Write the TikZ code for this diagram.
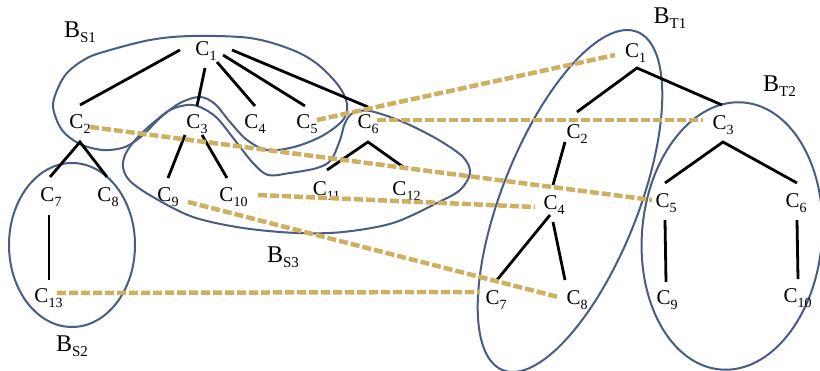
\documentclass[tikz,border=0pt]{standalone}
\usepackage{fontspec}
\setmainfont{Liberation Serif}
\newcommand{\mkC}[1]{{\fontsize{21}{21}\selectfont C\raisebox{-5pt}{\fontsize{14}{14}\selectfont #1}}}
\newcommand{\mkB}[1]{{\fontsize{24}{24}\selectfont B\raisebox{-5pt}{\fontsize{15}{15}\selectfont #1}}}
\definecolor{setcol}{RGB}{72,92,132}
\definecolor{mapcol}{RGB}{206,176,96}
\tikzset{
  lab/.style={inner sep=0pt, outer sep=0pt, anchor=center},
  edge/.style={draw=black, line width=2.8pt},
  setline/.style={draw=setcol, line width=2pt},
  mapline/.style={draw=mapcol, line width=4.5pt, dash pattern=on 9pt off 3pt}
}
\begin{document}
\begin{tikzpicture}[x=1pt,y=-1pt]
\useasboundingbox (0,0) rectangle (820,371);
\fill[white] (0,0) rectangle (820,371);

% ---- set outlines ----
\draw[setline] plot[smooth cycle, tension=0.55] coordinates {
 (53,107) (58,88) (67,73) (82,61) (100,53) (150,40) (193,36) (250,38)
 (290,49) (316,63) (338,85) (347,104) (343,120) (322,136) (294,147)
 (267,150) (247,140) (230,122) (215,104) (200,97) (180,103) (160,118)
 (143,135) (125,147) (103,150) (80,144) (62,130)};
\draw[setline] plot[smooth cycle, tension=0.55] coordinates {
 (123,167) (126,153) (137,138) (153,123) (170,110) (187,105) (200,107)
 (217,118) (237,143) (253,163) (268,175) (290,173) (317,168) (331,160)
 (340,140) (345,123) (353,113) (370,111) (403,122) (437,139) (463,157)
 (470,173) (460,190) (437,203) (393,223) (343,232) (297,233) (243,228)
 (193,217) (153,197) (130,181)};
\draw[setline] (72,245) ellipse [x radius=63, y radius=82];
\begin{scope}[shift={(570,201)}, rotate=68.3]
  \draw[setline] (0,0) ellipse [x radius=182, y radius=68];
\end{scope}
\begin{scope}[shift={(732,236)}, rotate=-5]
  \draw[setline] (0,0) ellipse [x radius=90, y radius=134];
\end{scope}

% ---- labels ----
\node[lab] (bS1) at (80,32.5) {\mkB{S1}};
\node[lab] (bS2) at (72,346.5) {\mkB{S2}};
\node[lab] (bS3) at (283,257.5) {\mkB{S3}};
\node[lab] (bT1) at (670,18.5) {\mkB{T1}};
\node[lab] (bT2) at (779.5,86) {\mkB{T2}};

% source tree
\node[lab] (sC1) at (206,51) {\mkC{1}};
\node[lab] (sC2) at (80,124) {\mkC{2}};
\node[lab] (sC3) at (197,124) {\mkC{3}};
\node[lab] (sC4) at (255,124) {\mkC{4}};
\node[lab] (sC5) at (307,124) {\mkC{5}};
\node[lab] (sC6) at (368,124) {\mkC{6}};
\node[lab] (sC7) at (51,197.5) {\mkC{7}};
\node[lab] (sC8) at (108,197.5) {\mkC{8}};
\node[lab] (sC9) at (168,197.5) {\mkC{9}};
\node[lab] (sC10) at (233.5,197.5) {\mkC{10}};
\node[lab] (sC11) at (326.5,191) {\mkC{11}};
\node[lab] (sC12) at (406.5,191.5) {\mkC{12}};
\node[lab] (sC13) at (48.5,298) {\mkC{13}};

% target tree
\node[lab] (tC1) at (635.5,53) {\mkC{1}};
\node[lab] (tC2) at (577,134) {\mkC{2}};
\node[lab] (tC3) at (723,125) {\mkC{3}};
\node[lab] (tC4) at (554,205) {\mkC{4}};
\node[lab] (tC5) at (666,203) {\mkC{5}};
\node[lab] (tC6) at (796,203) {\mkC{6}};
\node[lab] (tC7) at (496,300) {\mkC{7}};
\node[lab] (tC8) at (577,300) {\mkC{8}};
\node[lab] (tC9) at (667,300) {\mkC{9}};
\node[lab] (tC10) at (797.5,298) {\mkC{10}};

% ---- source tree edges ----
\draw[edge] ([shift={(-26,-1)}]sC1.center) -- ([shift={(0,-19)}]sC2.center);
\draw[edge] ([shift={(-1,17)}]sC1.center) -- ([shift={(0,-18)}]sC3.center);
\draw[edge] ([shift={(11,11)}]sC1.center) -- ([shift={(0,-18)}]sC4.center);
\draw[edge] ([shift={(17,4)}]sC1.center) -- ([shift={(-2,-18)}]sC5.center);
\draw[edge] ([shift={(26,-1)}]sC1.center) -- ([shift={(0,-17)}]sC6.center);
\draw[edge] ([shift={(-1,-20.5)}]sC7.center) -- ([shift={(0,18)}]sC2.center) -- ([shift={(-1,-20.5)}]sC8.center);
\draw[edge] ([shift={(-12,11)}]sC3.center) -- ([shift={(0,-19.5)}]sC9.center);
\draw[edge] ([shift={(5,11)}]sC3.center) -- ([shift={(-6.5,-19.5)}]sC10.center);
\draw[edge] ([shift={(0.5,-21)}]sC11.center) -- ([shift={(0,18)}]sC6.center) -- ([shift={(-0.5,-22.5)}]sC12.center);
\draw[edge] ([shift={(-2,17.5)}]sC7.center) -- ([shift={(0.5,-18)}]sC13.center);

% ---- target tree edges ----
\draw[edge] ([shift={(0,-22)}]tC2.center) -- ([shift={(1.5,15)}]tC1.center) -- ([shift={(-1,-20)}]tC3.center);
\draw[edge] ([shift={(-12,8)}]tC2.center) -- ([shift={(-1,-20)}]tC4.center);
\draw[edge] ([shift={(-1,-20)}]tC5.center) -- ([shift={(0,17)}]tC3.center) -- ([shift={(1,-20)}]tC6.center);
\draw[edge] ([shift={(-4,10)}]tC4.center) -- ([shift={(1,-20)}]tC7.center);
\draw[edge] ([shift={(-1,17)}]tC4.center) -- ([shift={(-12,-20)}]tC8.center);
\draw[edge] ([shift={(-1,17)}]tC5.center) -- ([shift={(-1,-18)}]tC9.center);
\draw[edge] ([shift={(1,17)}]tC6.center) -- ([shift={(0.5,-19)}]tC10.center);

% ---- mappings ----
\draw[mapline] ([shift={(10,-4)}]sC5.center) -- ([shift={(-20.5,2)}]tC1.center);
\draw[mapline] ([shift={(9,-4)}]sC6.center) -- ([shift={(-20,-5)}]tC3.center);
\draw[mapline] ([shift={(10,3)}]sC2.center) -- ([shift={(-14,-3)}]tC5.center);
\draw[mapline] ([shift={(24.5,-2.5)}]sC10.center) -- ([shift={(-19,2)}]tC4.center);
\draw[mapline] ([shift={(20,4.5)}]sC9.center) -- ([shift={(-19,-3)}]tC8.center);
\draw[mapline] ([shift={(8.5,-5)}]sC13.center) -- ([shift={(-16,-8)}]tC7.center);
\end{tikzpicture}
\end{document}
